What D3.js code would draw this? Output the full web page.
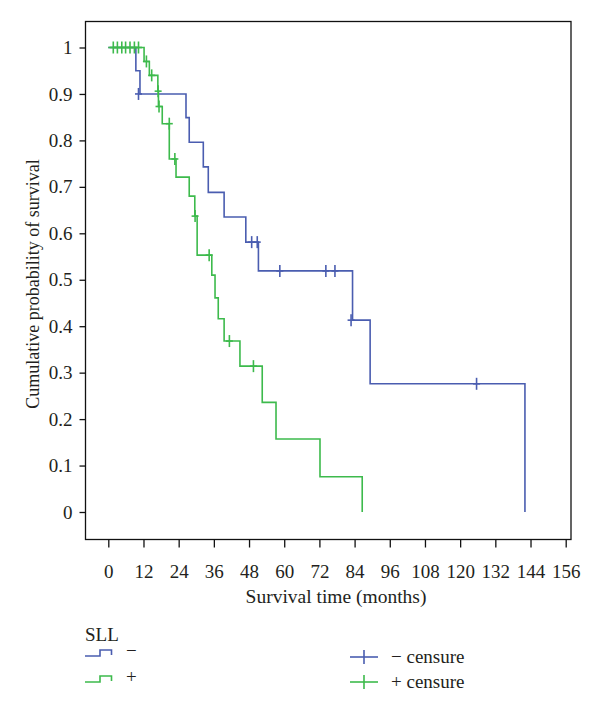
<!DOCTYPE html>
<html>
<head>
<meta charset="utf-8">
<script src="https://cdn.jsdelivr.net/npm/d3@7"></script>
<style>
  html, body { margin: 0; padding: 0; background: #fff; }
  svg { display: block; }
  text { font-family: "Liberation Serif", "DejaVu Serif", serif; fill: #231f20; }
</style>
</head>
<body>
<svg id="chart" width="600" height="712"></svg>
<script>
// ---- Data ----
const xTicks = [0, 12, 24, 36, 48, 60, 72, 84, 96, 108, 120, 132, 144, 156];
const yTicks = [0, 0.1, 0.2, 0.3, 0.4, 0.5, 0.6, 0.7, 0.8, 0.9, 1];

// SLL − (blue)
const blueTimes = [0, 9.4, 10.8, 26.5, 27.6, 32.4, 34.1, 39.5, 46.9, 51.2, 83.3, 89.3, 142.1];
const blueSurv  = [1, 0.95, 0.90, 0.849, 0.796, 0.743, 0.688, 0.635, 0.581, 0.519, 0.413, 0.276, 0];
const blueCensorTimes = [10.3, 48.9, 50.8, 58.5, 74.2, 77.3, 82.8, 125.6];
const blueCensorSurv  = [0.90, 0.581, 0.581, 0.519, 0.519, 0.519, 0.413, 0.276];

// SLL + (green)
const greenTimes = [0, 12.2, 14.0, 16.9, 17.1, 18.4, 20.8, 23.1, 27.6, 29.5, 30.3, 35.3, 36.4, 37.5, 39.5, 44.9, 52.5, 57.2, 72.2, 86.6];
const greenSurv  = [1, 0.97, 0.94, 0.906, 0.873, 0.836, 0.76, 0.721, 0.68, 0.637, 0.553, 0.51, 0.461, 0.416, 0.368, 0.314, 0.236, 0.157, 0.076, 0];
const greenCensorTimes = [1.7, 3.1, 4.6, 5.9, 7.4, 8.9, 10.3, 13.0, 14.8, 17.0, 17.3, 20.8, 22.7, 29.6, 34.4, 41.3, 49.5];
const greenCensorSurv  = [1, 1, 1, 1, 1, 1, 1, 0.97, 0.94, 0.906, 0.873, 0.836, 0.76, 0.637, 0.553, 0.368, 0.314];

const BLUE = "#4a5db0";
const GREEN = "#3dba4c";
const FONT = "'Liberation Serif', 'DejaVu Serif', serif";

// ---- Layout ----
const svg = d3.select("#chart");
const frame = { left: 85.5, top: 21.5, right: 571, bottom: 539.5 };
const x = d3.scaleLinear().domain([0, 156]).range([108.3, 565.7]);
const y = d3.scaleLinear().domain([0, 1]).range([512, 47.5]);

// frame
svg.append("rect")
  .attr("x", frame.left).attr("y", frame.top)
  .attr("width", frame.right - frame.left).attr("height", frame.bottom - frame.top)
  .attr("fill", "none").attr("stroke", "#111").attr("stroke-width", 1.3);

// x axis
const xAxis = d3.axisBottom(x).tickValues(xTicks).tickSize(8).tickPadding(17).tickFormat(d3.format("d"));
const gx = svg.append("g").attr("transform", `translate(0,${frame.bottom})`).call(xAxis);
gx.select(".domain").remove();
gx.selectAll(".tick line").attr("stroke", "#111").attr("stroke-width", 1.3);
gx.selectAll(".tick text").style("font-family", FONT).style("font-size", "19px").attr("fill", "#231f20");

// y axis
const yAxis = d3.axisLeft(y).tickValues(yTicks).tickSize(6).tickPadding(7).tickFormat(d => d === 0 ? "0" : d === 1 ? "1" : d3.format(".1f")(d));
const gy = svg.append("g").attr("transform", `translate(${frame.left},0)`).call(yAxis);
gy.select(".domain").remove();
gy.selectAll(".tick line").attr("stroke", "#111").attr("stroke-width", 1.3);
gy.selectAll(".tick text").style("font-family", FONT).style("font-size", "19px").attr("fill", "#231f20");

// axis titles
svg.append("text").attr("x", 336).attr("y", 603).attr("text-anchor", "middle")
  .style("font-size", "19.5px").text("Survival time (months)");
svg.append("text").attr("transform", "translate(39,284) rotate(-90)").attr("text-anchor", "middle")
  .style("font-size", "18px").text("Cumulative probability of survival");

// step curves
function stepPath(times, surv) {
  const pts = [];
  for (let i = 0; i < times.length; i++) {
    if (i > 0) pts.push([times[i], surv[i - 1]]);
    pts.push([times[i], surv[i]]);
  }
  return d3.line().x(d => x(d[0])).y(d => y(d[1]))(pts);
}
function drawCurve(times, surv, ct, cs, color) {
  svg.append("path").attr("d", stepPath(times, surv))
    .attr("fill", "none").attr("stroke", color).attr("stroke-width", 1.6);
  const g = svg.append("g").attr("stroke", color).attr("stroke-width", 1.6);
  ct.forEach((t, i) => {
    const cx = x(t), cy = y(cs[i]);
    g.append("line").attr("x1", cx).attr("x2", cx).attr("y1", cy - 6).attr("y2", cy + 6);
    g.append("line").attr("x1", cx - 3.5).attr("x2", cx + 3.5).attr("y1", cy).attr("y2", cy);
  });
}
drawCurve(blueTimes, blueSurv, blueCensorTimes, blueCensorSurv, BLUE);
drawCurve(greenTimes, greenSurv, greenCensorTimes, greenCensorSurv, GREEN);

// ---- Legend ----
svg.append("text").attr("x", 85).attr("y", 641).style("font-size", "19px").text("SLL");
const legendRows = [
  { color: BLUE, label: "\u2212", cy: 656 },
  { color: GREEN, label: "+", cy: 682 }
];
legendRows.forEach(r => {
  svg.append("path")
    .attr("d", `M85,${r.cy} H100 V${r.cy - 6} H111.5 V${r.cy - 1}`)
    .attr("fill", "none").attr("stroke", r.color).attr("stroke-width", 1.6);
  svg.append("text").attr("x", 126).attr("y", r.cy + 1).style("font-size", "19px").text(r.label);
});
const censorRows = [
  { color: BLUE, label: "\u2212 censure", cy: 657 },
  { color: GREEN, label: "+ censure", cy: 682 }
];
censorRows.forEach(r => {
  svg.append("line").attr("x1", 350).attr("x2", 378).attr("y1", r.cy).attr("y2", r.cy)
    .attr("stroke", r.color).attr("stroke-width", 1.6);
  svg.append("line").attr("x1", 364).attr("x2", 364).attr("y1", r.cy - 7).attr("y2", r.cy + 7)
    .attr("stroke", r.color).attr("stroke-width", 1.6);
  svg.append("text").attr("x", 391).attr("y", r.cy + 6).style("font-size", "19px").text(r.label);
});
</script>
</body>
</html>
